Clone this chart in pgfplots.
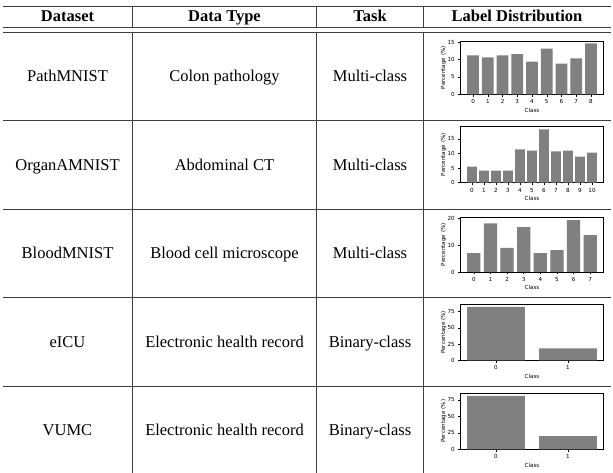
\documentclass[border=0pt]{standalone}
\usepackage{fontspec}
\setmainfont{Liberation Serif}
\newfontfamily\dejavu{DejaVu Sans}
\usepackage{pgfplots}
\pgfplotsset{compat=1.18}
\pgfplotsset{minibar/.style={
  scale only axis, width=142.6pt,
  ybar, bar width=0.8, ymin=0,
  enlarge x limits=false, enlarge y limits=false,
  axis line style={black, line width=0.5pt},
  tick align=outside, major tick length=2.5pt,
  tick style={black, line width=0.4pt},
  xtick pos=left, ytick pos=left, xtick=data,
  ticklabel style={font=\dejavu\fontsize{5.6}{6.5}\selectfont},
  /pgf/number format/assume math mode=true,
  xlabel={Class}, ylabel={Percentage (\%)},
  label style={font=\dejavu\fontsize{5.6}{6.5}\selectfont},
  xlabel style={at={(axis description cs:0.5,0)}, anchor=center, yshift=-15.7pt},
  ylabel style={at={(axis description cs:-0.12,0.5)}, anchor=center},
  xticklabel style={yshift=0.5pt},
}}
\begin{document}
\begin{tikzpicture}[x=1pt,y=1pt]
\useasboundingbox (0,0) rectangle (613,473);
\begin{scope}[line width=0.9pt, draw=black!75]
\draw (3,466.3) -- (611,466.3);
\draw (3,445.3) -- (611,445.3);
\draw (3,441) -- (611,441);
\foreach \yy in {352.3,264,175.3,87} \draw (3,\yy) -- (611,\yy);
\foreach \xx in {132.3,316.7,423.3} {\draw (\xx,466.3) -- (\xx,445.3); \draw (\xx,441) -- (\xx,0);}
\end{scope}
\begin{scope}[every node/.style={font=\fontsize{16.5}{18}\selectfont, anchor=base, inner sep=0pt}]
\node[font=\fontsize{16.5}{18}\selectfont\bfseries] at (67.5,451.5) {Dataset};
\node[font=\fontsize{16.5}{18}\selectfont\bfseries] at (224.5,451.5) {Data Type};
\node[font=\fontsize{16.5}{18}\selectfont\bfseries] at (370,451.5) {Task};
\node[font=\fontsize{16.5}{18}\selectfont\bfseries] at (517,451.5) {Label Distribution};
\node at (67.5,391.5) {PathMNIST};
\node at (224.5,391.5) {Colon pathology};
\node at (370,391.5) {Multi-class};
\node at (67.5,302.5) {OrganAMNIST};
\node at (224.5,302.5) {Abdominal CT};
\node at (370,302.5) {Multi-class};
\node at (67.5,214) {BloodMNIST};
\node at (224.5,214) {Blood cell microscope};
\node at (370,214) {Multi-class};
\node at (67.5,125.5) {eICU};
\node at (224.5,125.5) {Electronic health record};
\node at (370,125.5) {Binary-class};
\node at (67.5,37.5) {VUMC};
\node at (224.5,37.5) {Electronic health record};
\node at (370,37.5) {Binary-class};
\end{scope}
% PathMNIST
\begin{axis}[minibar, at={(460.7pt,378.7pt)}, anchor=south west, height=53.3pt,
  xmin=-0.84, xmax=8.84, ymax=15.3, ytick={0,5,10,15}]
\addplot[fill=gray, draw=none] coordinates {(0,11.2) (1,10.6) (2,11.2) (3,11.5) (4,9.4) (5,13.1) (6,8.8) (7,10.3) (8,14.6)};
\end{axis}
% OrganAMNIST
\begin{axis}[minibar, at={(460.7pt,290.3pt)}, anchor=south west, height=56pt,
  xmin=-0.94, xmax=10.94, ymax=19.2, ytick={0,5,10,15}]
\addplot[fill=gray, draw=none] coordinates {(0,5.5) (1,4.1) (2,4.1) (3,4.1) (4,11.4) (5,11.0) (6,18.3) (7,10.7) (8,11.0) (9,8.9) (10,10.3)};
\end{axis}
% BloodMNIST
\begin{axis}[minibar, at={(460.7pt,201pt)}, anchor=south west, height=54.7pt,
  xmin=-0.79, xmax=7.79, ymax=20.45, ytick={0,10,20}]
\addplot[fill=gray, draw=none] coordinates {(0,7.1) (1,18.2) (2,9.0) (3,16.8) (4,7.1) (5,8.2) (6,19.4) (7,13.8)};
\end{axis}
% eICU
\begin{axis}[minibar, at={(460.7pt,112.7pt)}, anchor=south west, height=56pt,
  xmin=-0.49, xmax=1.49, ymax=86, ytick={0,25,50,75}]
\addplot[fill=gray, draw=none] coordinates {(0,82) (1,18.5)};
\end{axis}
% VUMC
\begin{axis}[minibar, at={(460.7pt,23.7pt)}, anchor=south west, height=56pt,
  xmin=-0.49, xmax=1.49, ymax=85, ytick={0,25,50,75}]
\addplot[fill=gray, draw=none] coordinates {(0,81) (1,20)};
\end{axis}
\end{tikzpicture}
\end{document}
